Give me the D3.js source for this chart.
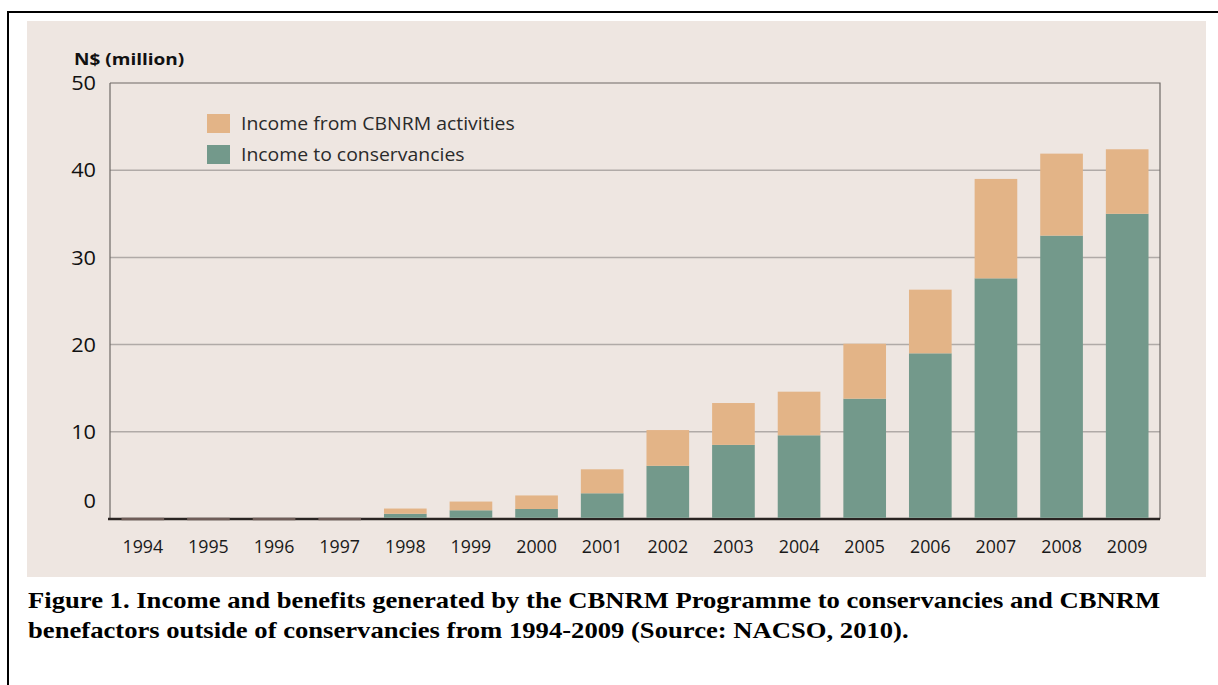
<!DOCTYPE html>
<html>
<head>
<meta charset="utf-8">
<script src="https://cdn.jsdelivr.net/npm/d3@7"></script>
<style>
  body { margin: 0; background: #fff; }
  svg { display: block; }
</style>
</head>
<body>
<script>
const years = ['1994','1995','1996','1997','1998','1999','2000','2001','2002','2003','2004','2005','2006','2007','2008','2009']
// income to conservancies (green, bottom)
const conservancies = [0, 0, 0, 0, 0.6, 1.0, 1.15, 2.95, 6.1, 8.5, 9.6, 13.8, 19.0, 27.6, 32.5, 35.0]
// income from CBNRM activities (orange, stacked on top)
const activities = [0, 0, 0, 0, 0.6, 1.0, 1.55, 2.75, 4.1, 4.8, 5.0, 6.3, 7.3, 11.4, 9.4, 7.4]
const yTicks = [0, 10, 20, 30, 40, 50]
const seriesNames = ['Income from CBNRM activities', 'Income to conservancies']
const seriesColors = ['#e3b487', '#73998b']

const width = 1218, height = 685
const margin = { left: 110, right: 58, top: 83, bottom: 166 }

const svg = d3.select('body').append('svg')
    .attr('width', width)
    .attr('height', height)

// outer frame
svg.append('path')
    .attr('d', `M8,${height} V12 H${width}`)
    .attr('fill', 'none')
    .attr('stroke', '#000')
    .attr('stroke-width', 2)

// beige panel
svg.append('rect')
    .attr('x', 27).attr('y', 21)
    .attr('width', 1179).attr('height', 556)
    .attr('fill', '#eee6e1')

const x = d3.scaleBand()
    .domain(years)
    .range([margin.left, width - margin.right])
    .paddingInner(0.35)
    .paddingOuter(0.175)

const y = d3.scaleLinear()
    .domain([0, 50])
    .range([height - margin.bottom, margin.top])

// gridlines
svg.append('g')
    .selectAll('line')
    .data(yTicks.filter(d => d > 0 && d < 50))
    .join('line')
    .attr('x1', margin.left).attr('x2', width - margin.right)
    .attr('y1', d => y(d)).attr('y2', d => y(d))
    .attr('stroke', '#b0aaa7')
    .attr('stroke-width', 1.5)

// top and right frame of the plot
svg.append('path')
    .attr('d', `M${margin.left},${y(50)} H${width - margin.right} V${y(0)}`)
    .attr('fill', 'none')
    .attr('stroke', '#6e6966')
    .attr('stroke-width', 1.2)

// left axis line
svg.append('line')
    .attr('x1', margin.left).attr('x2', margin.left)
    .attr('y1', y(50)).attr('y2', y(0))
    .attr('stroke', '#6e6966')
    .attr('stroke-width', 1.2)

// baseline
svg.append('line')
    .attr('x1', margin.left - 2).attr('x2', width - margin.right)
    .attr('y1', y(0)).attr('y2', y(0))
    .attr('stroke', '#2a2422')
    .attr('stroke-width', 2.5)

// stacked bars
const rows = years.map((yr, i) => ({ year: yr, cons: conservancies[i], act: activities[i] }))
const stack = d3.stack().keys(['cons', 'act'])(rows)
const colorOf = { cons: seriesColors[1], act: seriesColors[0] }

svg.append('g')
    .selectAll('g')
    .data(stack)
    .join('g')
    .attr('fill', d => colorOf[d.key])
    .selectAll('rect')
    .data(d => d.filter(s => s[1] > s[0]))
    .join('rect')
    .attr('x', d => x(d.data.year))
    .attr('width', x.bandwidth())
    .attr('y', d => y(d[1]))
    .attr('height', d => y(d[0]) - y(d[1]) - (d[0] === 0 ? 1.2 : 0))

// zero-value stubs
svg.append('g')
    .selectAll('rect')
    .data(rows.filter(d => d.cons + d.act === 0))
    .join('rect')
    .attr('x', d => x(d.year))
    .attr('width', x.bandwidth())
    .attr('y', y(0) - 1.2)
    .attr('height', 2.4)
    .attr('fill', '#6f5d58')

const font = '"Open Sans", sans-serif'

// y tick labels
svg.append('g')
    .selectAll('text')
    .data(yTicks)
    .join('text')
    .attr('transform', d => `translate(96,${d === 0 ? y(0) - 18 : y(d)}) scale(1.06,1)`)
    .attr('dy', '0.35em')
    .attr('text-anchor', 'end')
    .attr('font-family', font)
    .attr('font-size', 20.5)
    .attr('fill', '#111')
    .text(d => d)

// y axis title
svg.append('text')
    .attr('transform', `translate(74,65) scale(1.16,1)`)
    .attr('font-family', font)
    .attr('font-weight', 'bold')
    .attr('font-size', 16.4)
    .attr('fill', '#111')
    .text('N$ (million)')

// x labels
svg.append('g')
    .selectAll('text')
    .data(years)
    .join('text')
    .attr('x', d => x(d) + x.bandwidth() / 2)
    .attr('y', 553)
    .attr('text-anchor', 'middle')
    .attr('font-family', font)
    .attr('font-size', 17.8)
    .attr('fill', '#1a1a1a')
    .text(d => d)

// legend
const legend = svg.append('g')
    .selectAll('g')
    .data(seriesNames)
    .join('g')
    .attr('transform', (d, i) => `translate(207,${114 + i * 31})`)

legend.append('rect')
    .attr('width', 23).attr('height', 19)
    .attr('fill', (d, i) => seriesColors[i])

legend.append('text')
    .attr('transform', `translate(34,15.5) scale(1.05,1)`)
    .attr('font-family', font)
    .attr('font-size', 18.5)
    .attr('fill', '#2a2a2a')
    .text(d => d)

// caption
const caption = svg.append('text')
    .attr('transform', `translate(28,0) scale(1.11,1)`)
    .attr('font-family', '"Liberation Serif", "Times New Roman", serif')
    .attr('font-weight', 'bold')
    .attr('font-size', 24)
    .attr('fill', '#000')

caption.append('tspan').attr('x', 0).attr('y', 608)
    .text('Figure 1. Income and benefits generated by the CBNRM Programme to conservancies and CBNRM')
caption.append('tspan').attr('x', 0).attr('y', 638.5)
    .text('benefactors outside of conservancies from 1994-2009 (Source: NACSO, 2010).')
</script>
</body>
</html>
